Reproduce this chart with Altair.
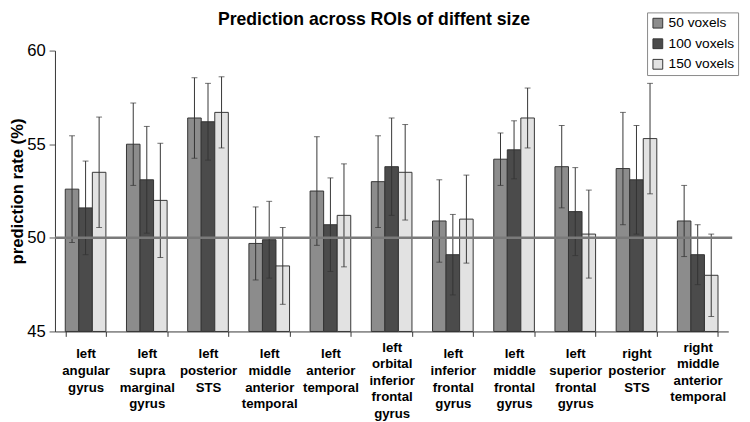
import altair as alt
import pandas as pd

regions = [
    "left angular gyrus",
    "left supra marginal gyrus",
    "left posterior STS",
    "left middle anterior temporal",
    "left anterior temporal",
    "left orbital inferior frontal gyrus",
    "left inferior frontal gyrus",
    "left middle frontal gyrus",
    "left superior frontal gyrus",
    "right posterior STS",
    "right middle anterior temporal",
]
sizes = ["50 voxels", "100 voxels", "150 voxels"]

v50 = [52.6, 55.0, 56.4, 49.7, 52.5, 53.0, 50.9, 54.2, 53.8, 53.7, 50.9]
e50 = [2.85, 2.2, 2.15, 1.95, 2.9, 2.45, 2.2, 1.4, 2.2, 3.0, 1.9]
v100 = [51.6, 53.1, 56.2, 49.9, 50.7, 53.8, 49.1, 54.7, 51.4, 53.1, 49.1]
e100 = [2.5, 2.85, 2.05, 2.05, 2.5, 2.6, 2.15, 1.55, 2.35, 2.9, 1.6]
v150 = [53.5, 52.0, 56.7, 48.5, 51.2, 53.5, 51.0, 56.4, 50.2, 55.3, 48.0]
e150 = [2.95, 3.05, 1.9, 2.05, 2.75, 2.55, 2.35, 1.6, 2.35, 2.95, 2.2]

chance = [50]
bar_colors = ["#8c8c8c", "#4b4b4b", "#e2e2e2"]

rows = []
for s, vals, errs in zip(sizes, [v50, v100, v150], [e50, e100, e150]):
    for r, v, e in zip(regions, vals, errs):
        rows.append({"region": r, "size": s, "value": v, "lo": v - e, "hi": v + e})
df = pd.DataFrame(rows)

FONT = "Liberation Sans"

yscale = alt.Scale(domain=[45, 60], zero=False, nice=False)

raised = "datum.value == 'left orbital inferior frontal gyrus' || datum.value == 'right middle anterior temporal'"

base = alt.Chart(df).encode(
    x=alt.X(
        "region:N",
        sort=regions,
        scale=alt.Scale(paddingInner=0.336, paddingOuter=0.168),
        axis=alt.Axis(
            title=None,
            labelAngle=0,
            labelExpr="datum.value ? split(datum.value, ' ') : ''",
            tickBand="extent",
            tickSize=5,
            tickWidth=1,
            labelPadding={"condition": {"test": raised, "value": 4}, "value": 11},
            labelBaseline="top",
            labelFont=FONT,
            labelFontSize=13.5,
            labelFontWeight="bold",
            labelLineHeight=17,
            labelColor="#000",
            labelOverlap=False,
            labelBound=False,
            domainColor="#333",
            tickColor="#333",
        ),
    ),
    xOffset=alt.XOffset("size:N", sort=sizes, scale=alt.Scale(domain=sizes, paddingInner=0, paddingOuter=0)),
)

bars = base.mark_bar(stroke="#333", strokeWidth=1).encode(
    y=alt.Y(
        "value:Q",
        scale=yscale,
        axis=alt.Axis(
            title="prediction rate (%)",
            values=[45, 50, 55, 60],
            grid=False,
            tickSize=6,
            labelPadding=4,
            labelFont=FONT,
            labelFontSize=17,
            labelColor="#000",
            titleFont=FONT,
            titleFontSize=17,
            titleFontWeight="bold",
            titleColor="#000",
            titlePadding=0,
            domainColor="#333",
            tickColor="#555",
        ),
    ),
    y2=alt.datum(45),
    color=alt.Color(
        "size:N",
        sort=sizes,
        scale=alt.Scale(domain=sizes, range=bar_colors),
        legend=alt.Legend(
            title=None,
            orient="none",
            legendX=605,
            legendY=-39,
            direction="vertical",
            strokeColor="#888",
            fillColor="#fff",
            padding=4,
            symbolType="square",
            symbolSize=100,
            symbolStrokeColor="#333",
            symbolStrokeWidth=1,
            labelFont=FONT,
            labelFontSize=14,
            labelColor="#000",
            labelOffset=4,
            rowPadding=7,
        ),
    ),
)

err = base.mark_rule(color="#333", strokeWidth=1).encode(
    y=alt.Y("lo:Q", scale=yscale), y2="hi:Q"
)
cap_hi = base.mark_tick(color="#333", size=6, thickness=1).encode(y=alt.Y("hi:Q", scale=yscale))
cap_lo = base.mark_tick(color="#333", size=6, thickness=1).encode(y=alt.Y("lo:Q", scale=yscale))

ref = alt.Chart(pd.DataFrame({"chance": chance})).mark_rule(color="#7a7a7a", strokeWidth=2.5).encode(
    y=alt.Y("chance:Q", scale=yscale),
    x=alt.value(0),
    x2=alt.value(692),
)

chart = (
    alt.layer(bars, err, cap_hi, cap_lo, ref)
    .properties(
        width=688,
        height=287,
        autosize=alt.AutoSizeParams(type="none"),
        padding={"left": 48, "top": 39, "right": 14, "bottom": 88},
        title=alt.TitleParams(
            "Prediction across ROIs of diffent size",
            font=FONT,
            fontSize=18,
            fontWeight="bold",
            color="#000",
            anchor="middle",
            frame="group",
            baseline="alphabetic",
            dx=-18,
            offset=-31,
        ),
    )
    .configure_view(stroke=None)
)

chart.save("out.html", embed_options={"renderer": "svg", "actions": False})
